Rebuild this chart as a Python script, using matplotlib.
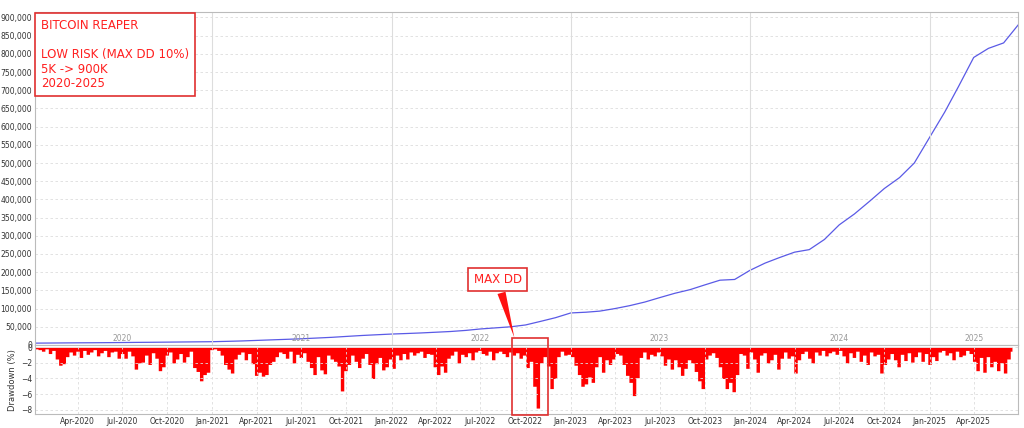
import numpy as np
import pandas as pd
import matplotlib
matplotlib.use("Agg")
import matplotlib.pyplot as plt
import matplotlib.dates as mdates
from matplotlib.patches import Rectangle, FancyArrowPatch
from matplotlib.ticker import FuncFormatter, MultipleLocator

equity = [5000, 5300, 5600, 5900, 6100, 6400, 6700, 7100, 7400, 7800, 8200, 8600,
          9000, 10000, 11000, 12500, 14000, 15500, 17000, 19000, 21000, 23500, 26000, 28000,
          30000, 31500, 33000, 35000, 37000, 40000, 44000, 47000, 50000, 55000, 65000, 75000,
          88000, 90000, 93000, 100000, 108000, 118000, 130000, 142000, 152000, 165000, 178000, 180000,
          205000, 225000, 240000, 255000, 262000, 290000, 330000, 360000, 395000, 430000, 460000, 500000,
          570000, 640000, 710000, 790000, 815000, 830000, 880000]
eq_dates = pd.date_range("2020-01-01", periods=len(equity), freq="MS")

dd = [0,-0.2,-0.3,-0.5,-0.2,-0.8,-0.4,-1.5,-2.3,-2.1,-1.2,-0.6,-1.0,
      -0.5,-1.3,-0.4,-0.9,-0.6,-0.3,-1.1,-0.7,-0.4,-1.2,-0.6,-0.5,-1.4,
      -0.8,-1.4,-0.5,-1.1,-2.8,-2.0,-1.9,-1.0,-2.2,-0.7,-1.4,-3.0,-2.5,
      -1.0,-0.6,-2.0,-1.5,-0.8,-1.9,-1.2,-0.5,-2.6,-3.1,-4.3,-3.5,-3.2,
      -0.3,-0.2,-0.4,-1.0,-2.2,-2.8,-3.3,-1.5,-0.9,-0.6,-1.6,-0.8,-2.1,
      -3.6,-3.2,-3.7,-3.5,-2.2,-1.8,-1.2,-0.6,-0.8,-1.4,-0.5,-2.0,-0.9,
      -1.3,-0.7,-1.8,-2.6,-3.5,-1.2,-2.9,-3.4,-1.0,-1.5,-1.8,-2.4,-5.6,
      -3.0,-2.2,-1.0,-1.8,-2.6,-1.4,-0.8,-2.2,-4.0,-2.1,-1.3,-2.9,-2.5,
      -1.5,-2.7,-1.0,-1.6,-0.8,-1.5,-0.6,-1.0,-0.7,-0.5,-1.3,-0.8,-0.9,
      -2.5,-3.5,-2.4,-3.2,-1.4,-1.0,-0.5,-2.0,-0.9,-1.2,-0.7,-1.6,-0.6,
      -0.4,-0.8,-1.0,-0.5,-1.6,-0.7,-0.5,-0.8,-1.2,-0.6,-1.0,-0.7,-1.4,
      -1.0,-2.6,-1.8,-5.0,-7.8,-2.0,-1.2,-2.4,-5.3,-4.0,-1.2,-0.5,-1.0,
      -0.9,-1.2,-2.3,-3.5,-5.0,-4.7,-3.8,-4.5,-2.5,-1.2,-3.2,-1.6,-2.2,
      -1.5,-0.8,-1.0,-2.2,-3.6,-4.5,-6.2,-3.9,-1.3,-0.6,-1.5,-0.9,-1.1,
      -0.6,-1.1,-2.3,-1.5,-2.8,-1.6,-2.5,-3.6,-2.7,-1.6,-2.0,-3.1,-4.3,
      -5.3,-1.5,-1.0,-0.7,-1.3,-2.5,-4.0,-5.3,-4.5,-5.7,-3.5,-0.8,-1.0,
      -2.7,-0.6,-1.5,-3.2,-1.0,-0.7,-2.0,-1.6,-0.9,-2.8,-1.4,-0.6,-1.4,
      -1.1,-3.3,-1.6,-0.8,-0.5,-1.4,-2.0,-0.6,-1.0,-0.4,-1.1,-0.7,-0.5,
      -0.9,-0.4,-1.1,-2.0,-0.7,-1.3,-0.5,-1.8,-1.0,-2.2,-0.6,-1.1,-0.9,
      -3.3,-2.2,-1.5,-0.8,-1.6,-2.5,-0.9,-1.7,-0.7,-1.9,-1.2,-0.6,-1.8,
      -0.8,-2.2,-1.2,-1.7,-0.6,-0.4,-1.0,-0.7,-1.6,-0.5,-1.2,-1.0,-0.4,
      -0.8,-1.8,-3.0,-1.3,-3.2,-1.2,-2.5,-1.8,-3.0,-2.0,-3.3,-1.5,-0.5]
dd_dates = pd.date_range("2020-01-01", periods=len(dd), freq="7D")

year_labels = ["2020", "2021", "2022", "2023", "2024", "2025"]
year_label_pos = ["2020-07-01", "2021-07-01", "2022-07-01", "2023-07-01", "2024-07-01", "2025-04-01"]

fig = plt.figure(figsize=(10.24, 4.28), dpi=100)
ax1 = fig.add_axes([0.034, 0.194, 0.960, 0.778])
ax2 = fig.add_axes([0.034, 0.032, 0.960, 0.162], sharex=ax1)

xmin, xmax = pd.Timestamp("2020-01-05"), pd.Timestamp("2025-06-30")
for ax in (ax1, ax2):
    for s in ax.spines.values():
        s.set_color("#bbbbbb")
    ax.tick_params(colors="#333333", labelsize=5.5, length=0, pad=2)

ax1.plot(eq_dates, equity, color="#5a5ae6", lw=0.9)
ax1.set_xlim(xmin, xmax)
ax1.set_ylim(0, 915000)
ax1.yaxis.set_major_locator(MultipleLocator(50000))
ax1.yaxis.set_major_formatter(FuncFormatter(lambda v, p: f"{int(v):,}"))
ax1.grid(axis="y", color="#dddddd", ls=(0, (3, 3)), lw=0.6)
for y in range(2021, 2026):
    ax1.axvline(pd.Timestamp(f"{y}-01-01"), color="#dddddd", lw=0.8)
ax1.tick_params(axis="x", labelbottom=False)
for lbl, pos in zip(year_labels, year_label_pos):
    ax1.text(pd.Timestamp(pos), 6000, lbl, color="#999999", fontsize=5.5,
             ha="center", va="bottom")

ax2.fill_between(dd_dates, dd, 0, step="mid", color="#ff0000", lw=0)
ax2.set_ylim(-8.6, 0.3)
ax2.set_yticks([0, -2, -4, -6, -8])
ax2.set_ylabel("Drawdown (%)", fontsize=6, color="#333333", labelpad=3)
ax2.xaxis.set_major_locator(mdates.MonthLocator(bymonth=[1, 4, 7, 10]))
ax2.xaxis.set_major_formatter(mdates.DateFormatter("%b-%Y"))
ax2.grid(color="#dddddd", ls=(0, (3, 3)), lw=0.6)
ax2.set_xlim(xmin, xmax)

fig.text(0.040, 0.955,
         "BITCOIN REAPER\n\nLOW RISK (MAX DD 10%)\n5K -> 900K\n2020-2025",
         color="#ff2020", fontsize=8.5, va="top", ha="left", linespacing=1.15,
         bbox=dict(boxstyle="square,pad=0.5", fc="white", ec="#e03030", lw=1.2))

fig.text(0.486, 0.347, "MAX DD", color="#ff2020", fontsize=8.5, ha="center", va="center",
         bbox=dict(boxstyle="square,pad=0.45", fc="white", ec="#e03030", lw=1.2))
fig.add_artist(FancyArrowPatch((0.489, 0.322), (0.503, 0.205), transform=fig.transFigure,
                               arrowstyle="wedge,tail_width=6", color="#ff1010", lw=0))
fig.add_artist(Rectangle((0.500, 0.030), 0.035, 0.180, transform=fig.transFigure,
                         fill=False, ec="#e03030", lw=1.2))

fig.savefig("out.png", dpi=100)
